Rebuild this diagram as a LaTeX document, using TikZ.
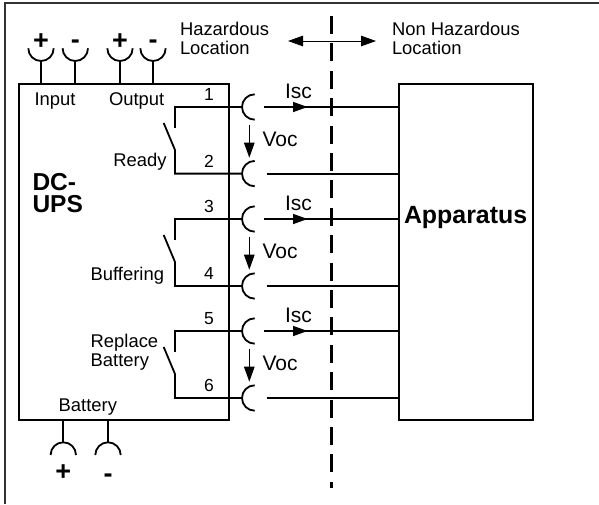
\documentclass[tikz,border=0pt]{standalone}
\usepackage{fontspec}
\setmainfont{Liberation Sans}
\usetikzlibrary{arrows.meta,calc}
\tikzset{
  wire/.style={line width=1.8pt,black},
  thin arrow/.style={line width=1pt,black,-{Triangle[length=15pt,width=10.5pt]}},
  both arrow/.style={line width=1pt,black,{Triangle[length=15pt,width=10.5pt]}-{Triangle[length=15pt,width=10.5pt]}},
  box/.style={draw=black,line width=1.8pt,inner sep=0pt,outer sep=0pt,rectangle},
  lab/.style={inner sep=0pt,outer sep=0pt,anchor=base west,font=\fontsize{18.4}{19}\selectfont},
  num/.style={inner sep=0pt,outer sep=0pt,anchor=base,font=\fontsize{17.5}{19}\selectfont},
  meas/.style={inner sep=0pt,outer sep=0pt,anchor=base west,font=\fontsize{21}{22}\selectfont},
  big/.style={inner sep=0pt,outer sep=0pt,anchor=base west,font=\fontsize{24.5}{25}\selectfont\bfseries},
  bigger/.style={big,font=\fontsize{24.9}{25}\selectfont\bfseries},
  sign/.style={inner sep=0pt,outer sep=0pt,anchor=base,font=\fontsize{27}{27}\selectfont\bfseries},
  frameline/.style={line width=2pt,draw=black!80},
  hazard/.style={line width=3pt,black,dash pattern=on 18pt off 9.4pt},
}
\begin{document}
\begin{tikzpicture}[x=1pt,y=-1pt]
\useasboundingbox (0,0) rectangle (599,504);
\fill[white] (0,0) rectangle (599,504);
\draw[frameline] (599,2.7) -- (5,2.7) -- (5,504);
% boxes
\node[box,minimum width=210.5pt,minimum height=336pt] (ups) at (124,252) {};
\node[box,minimum width=133.5pt,minimum height=336pt] (app) at (466,252) {};
% hazard line
\coordinate (hz1) at (331.5,16);
\coordinate (hz2) at (331.5,488);
\draw[hazard] (hz1) -- (hz2);
% location arrow
\coordinate (la) at (288,41);
\coordinate (lb) at (376,41);
\draw[both arrow] (la) -- (lb);
\node[lab] (hz) at (180,35) {Hazardous};
\node[lab] (hzb) at (180,54) {Location};
\node[lab] (nh) at (392,35) {Non Hazardous};
\node[lab] (nhb) at (392,54) {Location};
% top terminals
\foreach \n/\x in {a/41,b/75.3,c/120,d/153}{
  \coordinate (top\n) at (\x,62.3);
  \draw[wire] (top\n) -- (top\n |- ups.north);
  \draw[wire] (\x-12.7,48.3) arc[start angle=180,end angle=360,radius=12.7pt];
}
\node[sign] (pa) at (41,49.5) {+};
\node[sign] (ma) at (75.3,48.5) {-};
\node[sign] (pb) at (120,49.5) {+};
\node[sign] (mb) at (153,48.5) {-};
% bottom terminals
\foreach \n/\x in {e/63.3,f/108}{
  \coordinate (bot\n) at (\x,441.7);
  \draw[wire] (bot\n) -- (bot\n |- ups.south);
  \draw[wire] (\x-12.7,455) arc[start angle=180,end angle=0,radius=12.7pt];
}
\node[sign] (pc) at (63.3,480) {+};
\node[sign] (mc) at (108,482) {-};
% switches and wires
\foreach \r/\t/\b/\nt/\nb in {0/107/173.6/1/2,1/219/286/3/4,2/331/398/5/6}{
  \coordinate (sa\r) at (175,\t);
  \coordinate (sb\r) at (175,\b);
  \coordinate (ca\r) at (241.7,\t);
  \coordinate (cb\r) at (241.7,\b);
  % contacts
  \draw[wire] (ca\r) -- (sa\r) -- (175,\t+21);
  \draw[wire] (163.7,\t+16) -- (175,\t+43) -- (sb\r) -- (cb\r);
  % receptacles
  \draw[wire] (254.7,\t-12.7) arc[start angle=90,end angle=270,radius=12.7pt];
  \draw[wire] (254.7,\b-12.7) arc[start angle=90,end angle=270,radius=12.7pt];
  % field wires
  \draw[wire] (264,\t) -- (264,\t -| app.west);
  \draw[wire] (266.7,\b) -- (266.7,\b -| app.west);
  \fill[black] (293,\t-5.2) -- (307.5,\t) -- (293,\t+5.2) -- cycle;
  % numbers
  \node[num] (n\nt) at (209,\t-6.3) {\nt};
  \node[num] (n\nb) at (209,\b-6.6) {\nb};
  % measured values
  \node[meas] (i\r) at (285,\t-8.7) {Isc};
  \node[meas] (v\r) at (262.5,\t+39.7) {Voc};
  \coordinate (va\r) at (249.3,\t+18);
  \coordinate (vb\r) at (249.3,\t+50.7);
  \draw[thin arrow] (va\r) -- (vb\r);
}
% labels
\node[lab] (input) at (34.5,105) {Input};
\node[lab] (output) at (109,105) {Output};
\node[lab] (ready) at (113.3,166.7) {Ready};
\node[lab] (buff) at (90.7,280) {Buffering};
\node[lab] (repl) at (90.7,347.7) {Replace};
\node[lab] (batt) at (90.7,366.7) {Battery};
\node[lab] (battb) at (58.7,411.7) {Battery};
\node[big] (dc) at (32.5,190) {DC-};
\node[big] (upst) at (32.5,212.7) {UPS};
\node[bigger] (appt) at (404,223) {Apparatus};
\end{tikzpicture}
\end{document}
